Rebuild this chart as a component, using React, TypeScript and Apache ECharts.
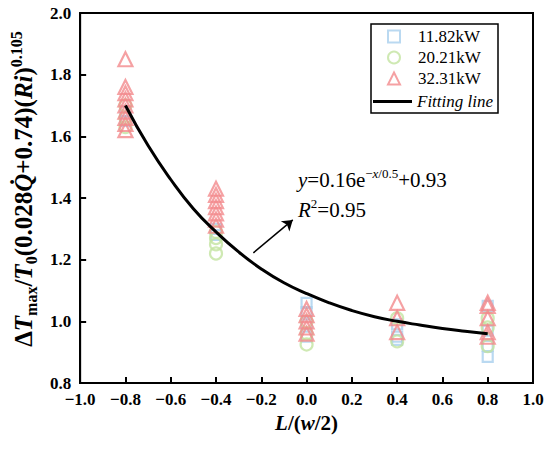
import React, { useEffect, useRef } from "react";
import * as echarts from "echarts";

const FONT = "Liberation Serif";

// 11.82kW (squares)
const sqX = [-0.8, -0.8, -0.4, -0.4, 0, 0, 0, 0, 0.4, 0.4, 0.4, 0.8, 0.8, 0.8, 0.8];
const sqY = [1.68, 1.65, 1.3, 1.28, 1.06, 1.03, 0.99, 0.95, 0.99, 0.95, 0.94, 1.05, 0.97, 0.92, 0.885];
// 20.21kW (circles)
const ciX = [-0.8, -0.8, -0.8, -0.4, -0.4, -0.4, -0.4, 0, 0, 0, 0.4, 0.4, 0.8, 0.8, 0.8];
const ciY = [1.7, 1.66, 1.63, 1.29, 1.27, 1.25, 1.22, 1.0, 0.96, 0.925, 1.01, 0.935, 1.01, 0.98, 0.92];
// 32.31kW (triangles)
const trX = [-0.8, -0.8, -0.8, -0.8, -0.8, -0.8, -0.8, -0.8, -0.8, -0.4, -0.4, -0.4, -0.4, -0.4, -0.4, -0.4, 0, 0, 0, 0, 0, 0.4, 0.4, 0.4, 0.8, 0.8, 0.8, 0.8, 0.8];
const trY = [1.85, 1.76, 1.74, 1.72, 1.7, 1.68, 1.66, 1.64, 1.62, 1.43, 1.41, 1.39, 1.37, 1.35, 1.33, 1.31, 1.04, 1.02, 1.0, 0.98, 0.96, 1.06, 1.01, 0.965, 1.06, 1.05, 1.01, 0.965, 0.95];
// Fitting line
const fitX = [-0.8, -0.7, -0.6, -0.5, -0.4, -0.3, -0.2, -0.1, 0, 0.1, 0.2, 0.3, 0.4, 0.5, 0.6, 0.7, 0.8];
const fitY = [1.7, 1.57, 1.46, 1.365, 1.29, 1.225, 1.17, 1.125, 1.09, 1.06, 1.035, 1.015, 1.0, 0.988, 0.977, 0.968, 0.96];
// Arrow annotation (data coords)
const arrowFrom = [-0.235, 1.222];
const arrowTo = [-0.061, 1.329];

const seriesNames = ["11.82kW", "20.21kW", "32.31kW", "Fitting line"];

const zip = (xs: number[], ys: number[]) => xs.map((x, i) => [x, ys[i]]);

const fmt = (v: number) => (v < 0 ? "\u2212" : "") + Math.abs(v).toFixed(1);

export default function App() {
  const ref = useRef<HTMLDivElement>(null);
  useEffect(() => {
    document.body.style.margin = "0";
    const chart = echarts.init(ref.current!, null, { renderer: "svg" });
    const tickLabel = { fontFamily: FONT, fontWeight: "bold", fontSize: 17, color: "#000" };
    const axisLine = { onZero: false, lineStyle: { color: "#000", width: 2 } };
    const axisTick = { inside: true, length: 6, lineStyle: { color: "#000", width: 2 } };
    const nameRich = {
      n: { fontFamily: FONT, fontWeight: "bold", fontSize: 25, lineHeight: 31, color: "#000" },
      i: { fontFamily: FONT, fontWeight: "bold", fontStyle: "italic", fontSize: 25, lineHeight: 31, color: "#000" },
      s: { fontFamily: FONT, fontWeight: "bold", fontSize: 16, lineHeight: 16, verticalAlign: "bottom", color: "#000" },
      p: { fontFamily: FONT, fontWeight: "bold", fontSize: 16, lineHeight: 16, verticalAlign: "top", color: "#000" },
    };
    const xRich = {
      n: { fontFamily: FONT, fontWeight: "bold", fontSize: 21, color: "#000" },
      i: { fontFamily: FONT, fontWeight: "bold", fontStyle: "italic", fontSize: 21, color: "#000" },
    };
    const eqRich = {
      n: { fontFamily: FONT, fontSize: 21, lineHeight: 26, color: "#000" },
      i: { fontFamily: FONT, fontStyle: "italic", fontSize: 21, lineHeight: 26, color: "#000" },
      p: { fontFamily: FONT, fontSize: 13, lineHeight: 13, verticalAlign: "top", color: "#000" },
      pi: { fontFamily: FONT, fontStyle: "italic", fontSize: 13, lineHeight: 13, verticalAlign: "top", color: "#000" },
    };
    const mkScatter = (name: string, sym: string, size: number, color: string, data: number[][]) => ({
      name,
      type: "scatter",
      symbol: sym,
      symbolSize: size,
      itemStyle: { color: "rgba(255,255,255,0)", borderColor: color, borderWidth: 2.2 },
      data,
    });
    chart.setOption({
      animation: false,
      backgroundColor: "#fff",
      grid: { left: 72, right: 17, top: 13, bottom: 67, show: true, borderColor: "#000", borderWidth: 2 },
      xAxis: {
        type: "value",
        min: -1,
        max: 1,
        interval: 0.2,
        splitLine: { show: false },
        axisLine,
        axisTick,
        axisLabel: { ...tickLabel, margin: 8, formatter: fmt },
        name: "{i|L}{n|/(}{i|w}{n|/2)}",
        nameLocation: "middle",
        nameGap: 25,
        nameTextStyle: { rich: xRich },
      },
      yAxis: {
        type: "value",
        min: 0.8,
        max: 2.0,
        interval: 0.2,
        splitLine: { show: false },
        axisLine,
        axisTick,
        axisLabel: { ...tickLabel, margin: 9, formatter: fmt },
        name: "{n|\u0394}{i|T}{s|max}{n|/}{i|T}{s|0}{n|(0.028}{i|Q\u0307}{n|+0.74)(}{i|Ri}{n|)}{p|0.105}",
        nameLocation: "middle",
        nameGap: 35,
        nameTextStyle: { rich: nameRich, padding: [0, 0, 0, 18] },
      },
      legend: [
        {
          orient: "vertical",
          left: 387,
          top: 28,
          padding: 0,
          itemWidth: 12,
          itemHeight: 12,
          itemGap: 4,
          data: seriesNames.slice(0, 3),
          textStyle: { fontFamily: FONT, fontSize: 17, color: "#000", padding: [0, 0, 0, 13] },
        },
        {
          orient: "vertical",
          left: 373,
          top: 93,
          padding: 0,
          itemWidth: 39,
          itemHeight: 3,
          data: [{ name: seriesNames[3], icon: "rect", textStyle: { fontStyle: "italic" } }],
          textStyle: { fontFamily: FONT, fontSize: 17, color: "#000" },
        },
      ],
      graphic: [
        {
          type: "rect",
          shape: { x: 371, y: 24, width: 127, height: 89 },
          style: { fill: "#fff", stroke: "#000", lineWidth: 1.5 },
          z: 0,
        },
        {
          type: "text",
          x: 298,
          y: 180,
          z: 100,
          style: {
            text: "{i|y}{n|=0.16e}{p|\u2212}{pi|x}{p|/0.5}{n|+0.93}",
            rich: eqRich,
            verticalAlign: "middle",
          },
        },
        {
          type: "text",
          x: 298,
          y: 210,
          z: 100,
          style: {
            text: "{i|R}{p|2}{n|=0.95}",
            rich: eqRich,
            verticalAlign: "middle",
          },
        },
      ],
      series: [
        mkScatter(seriesNames[0], "rect", 10, "#a9cfee", zip(sqX, sqY)),
        mkScatter(seriesNames[1], "circle", 12, "#c3e3a0", zip(ciX, ciY)),
        mkScatter(seriesNames[2], "triangle", 14, "#f28a8c", zip(trX, trY)),
        {
          name: seriesNames[3],
          type: "line",
          smooth: true,
          showSymbol: false,
          symbol: "none",
          lineStyle: { color: "#000", width: 3 },
          itemStyle: { color: "#000" },
          data: zip(fitX, fitY),
          z: 5,
          markLine: {
            silent: true,
            symbol: ["none", "arrow"],
            symbolSize: 10,
            label: { show: false },
            lineStyle: { color: "#000", width: 1.5, type: "solid" },
            data: [[{ coord: arrowFrom }, { coord: arrowTo }]],
          },
        },
      ],
    });
    return () => chart.dispose();
  }, []);
  return <div ref={ref} style={{ position: "absolute", left: 0, top: 0, width: 550, height: 450 }} />;
}
